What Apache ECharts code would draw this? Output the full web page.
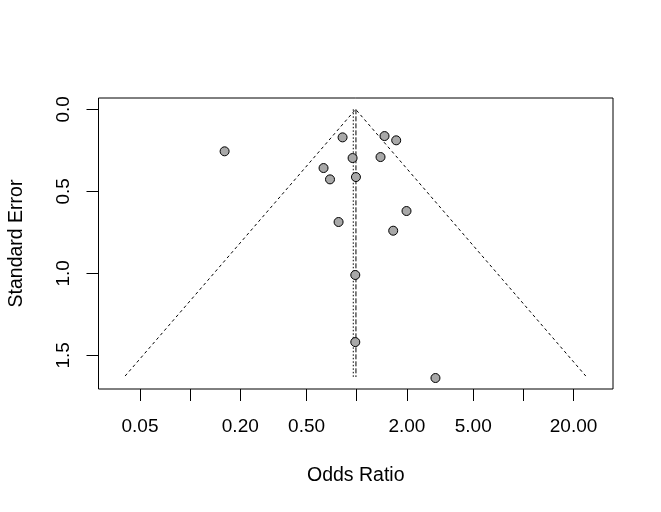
<!DOCTYPE html>
<html>
<head>
<meta charset="utf-8">
<script src="https://cdn.jsdelivr.net/npm/echarts@6/dist/echarts.min.js"></script>
<style>
html,body{margin:0;padding:0;background:#fff;}
#chart{width:661px;height:512px;}
</style>
</head>
<body>
<div id="chart"></div>
<script>
// Tick values (odds ratio) and labels
const xTickOR = [0.05, 0.1, 0.2, 0.5, 1, 2, 5, 10, 20];
const xLabelOR = [0.05, 0.2, 0.5, 2, 5, 20];
const yTickSE = [0, 0.5, 1, 1.5];

// Studies: odds ratio and standard error
const studyOR = [0.161, 0.822, 1.468, 1.725, 0.944, 1.389, 0.632, 0.691, 0.989, 0.778, 1.989, 1.655, 0.980, 0.980, 2.968];
const studySE = [0.256, 0.171, 0.163, 0.189, 0.297, 0.291, 0.358, 0.427, 0.413, 0.687, 0.620, 0.740, 1.010, 1.419, 1.638];

// Reference lines
const fixedOR = 0.989;
const randomOR = 0.953;
const funnelApexOR = 0.985;
const funnelLowOR = 0.0407;
const funnelHighOR = 23.7;
const funnelSE = 1.626;
const refLineSE = [0, 1.632];

const L = Math.log10;
const chart = echarts.init(document.getElementById('chart'), null, {renderer: 'canvas'});
const font = '"Liberation Sans", Arial, sans-serif';

const option = {
  backgroundColor: '#ffffff',
  animation: false,
  grid: {
    left: 98.5, right: 48, top: 98, bottom: 123,
    show: true, borderColor: '#000', borderWidth: 1, backgroundColor: 'transparent',
    containLabel: false, outerBoundsMode: 'none'
  },
  xAxis: {
    type: 'value',
    min: -1.550, max: 1.538,
    splitLine: {show: false},
    axisLine: {show: false, onZero: false},
    axisTick: {show: true, length: 12, lineStyle: {color: '#000', width: 1}, customValues: xTickOR.map(L)},
    axisLabel: {
      customValues: xLabelOR.map(L),
      formatter: v => Math.pow(10, v).toFixed(2),
      color: '#000', fontSize: 19, fontFamily: font, margin: 28
    },
    name: 'Odds Ratio', nameLocation: 'middle', nameGap: 77,
    nameTextStyle: {color: '#000', fontSize: 19.5, fontFamily: font}
  },
  yAxis: {
    type: 'value',
    inverse: true,
    min: -0.069, max: 1.705,
    splitLine: {show: false},
    axisLine: {show: false, onZero: false},
    axisTick: {show: true, length: 12, lineStyle: {color: '#000', width: 1}, customValues: yTickSE},
    axisLabel: {
      customValues: yTickSE,
      formatter: v => v.toFixed(1),
      rotate: 90,
      color: '#000', fontSize: 19, fontFamily: font, margin: 25
    },
    name: 'Standard Error', nameLocation: 'middle', nameGap: 72,
    nameTextStyle: {color: '#000', fontSize: 19.5, fontFamily: font}
  },
  series: [
    {
      type: 'line', symbol: 'none', silent: true, z: 2,
      data: [[L(funnelLowOR), funnelSE], [L(funnelApexOR), 0], [L(funnelHighOR), funnelSE]],
      lineStyle: {color: '#000', width: 1, type: [3, 3]}
    },
    {
      type: 'line', symbol: 'none', silent: true, z: 2,
      data: refLineSE.map(s => [L(fixedOR), s]),
      lineStyle: {color: '#000', width: 1, type: [5, 2]}
    },
    {
      type: 'line', symbol: 'none', silent: true, z: 2,
      data: refLineSE.map(s => [L(randomOR), s]),
      lineStyle: {color: '#000', width: 1, type: [1.5, 2]}
    },
    {
      type: 'scatter', z: 5,
      symbol: 'circle', symbolSize: 9,
      data: studyOR.map((o, i) => [L(o), studySE[i]]),
      itemStyle: {color: '#a8a8a8', borderColor: '#000', borderWidth: 1, opacity: 1}
    }
  ]
};
chart.setOption(option);
</script>
</body>
</html>
